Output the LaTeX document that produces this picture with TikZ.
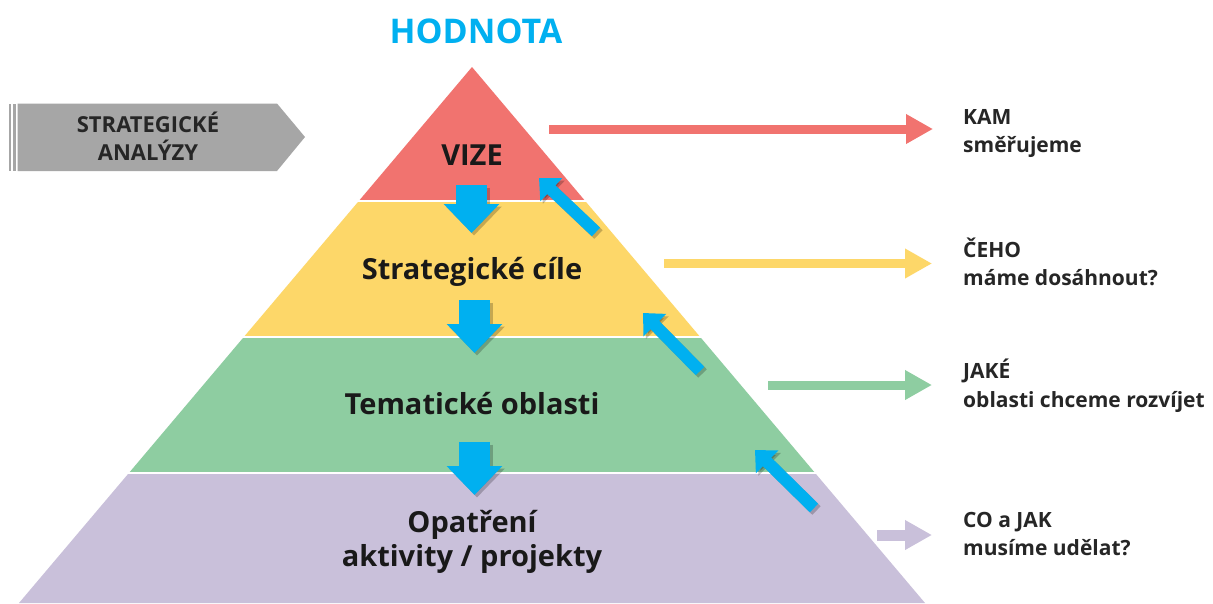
\documentclass[tikz,border=0pt]{standalone}
\usepackage{fontspec}
\setmainfont{Open Sans}
\usetikzlibrary{arrows.meta}
\definecolor{cred}{HTML}{F1736F}
\definecolor{cyel}{HTML}{FDD769}
\definecolor{cgrn}{HTML}{8ECDA1}
\definecolor{cpur}{HTML}{C9C0DA}
\definecolor{cblue}{HTML}{00B0F0}
\definecolor{cgrey}{HTML}{A6A6A6}
\definecolor{ctext}{HTML}{262626}
\begin{document}
\begin{tikzpicture}[x=1pt,y=-1pt,
  ptext/.style={inner sep=0pt, anchor=base, text=black!90,
    font=\bfseries\fontsize{29}{35}\selectfont},
  rtext/.style={inner sep=0pt, anchor=base west, text=ctext,
    font=\bfseries\fontsize{21}{28}\selectfont},
  gtext/.style={inner sep=0pt, anchor=base, text=ctext,
    font=\bfseries\fontsize{22}{28}\selectfont},
  sidearrow/.style={line width=9pt, -{Triangle[length=27pt,width=28pt]}},
  downarrow/.style={line width=31pt, cblue, -{Triangle[length=29pt,width=54pt]}},
  diagarrow/.style={line width=12pt, cblue, -{Triangle[length=17pt,width=31pt]}},
  downshadow/.style={line width=31pt, black, opacity=0.22,
    -{Triangle[length=29pt,width=54pt]}, transform canvas={shift={(2.5pt,-2.5pt)}}},
  diagshadow/.style={line width=12pt, black, opacity=0.22,
    -{Triangle[length=17pt,width=31pt]}, transform canvas={shift={(2.5pt,-2.5pt)}}},
  sepline/.style={white, line width=2pt}
]
\useasboundingbox (0,0) rectangle (1213,603);
\fill[white] (0,0) rectangle (1213,603);

% pyramid bands
\fill[cred] (472,67) -- (585.2,201) -- (358.8,201) -- cycle;
\fill[cyel] (358.8,201) -- (585.2,201) -- (700.2,337) -- (243.8,337) -- cycle;
\fill[cgrn] (243.8,337) -- (700.2,337) -- (815.1,473) -- (128.9,473) -- cycle;
\fill[cpur] (128.9,473) -- (815.1,473) -- (925,603) -- (19,603) -- cycle;
\draw[sepline] (355,201) -- (590,201);
\draw[sepline] (240,337) -- (704,337);
\draw[sepline] (125,473) -- (819,473);

% title
\node[inner sep=0pt, anchor=base, text=cblue,
  font=\bfseries\fontsize{34}{40}\selectfont] (title) at (476,43) {HODNOTA};

% grey arrow (strategic analyses)
\fill[cgrey] (8.5,103.5) rectangle (10.5,171);
\fill[cgrey] (13,103.5) rectangle (15.5,171);
\fill[cgrey] (17.5,103.5) -- (277,103.5) -- (305,137) -- (277,171) -- (17.5,171) -- cycle;
\node[gtext] (sa1) at (148,132) {STRATEGICKÉ};
\node[gtext] (sa2) at (148,160) {ANALÝZY};

% pyramid labels
\node[ptext] (vize) at (472,165) {VIZE};
\node[ptext] (cile) at (472,279) {Strategické cíle};
\node[ptext] (oblasti) at (472,414) {Tematické oblasti};
\node[ptext] (opatreni) at (472,532) {Opatření};
\node[ptext] (aktivity) at (472,566) {aktivity / projekty};

% right labels
\node[rtext] (kam1) at (963,124) {KAM};
\node[rtext] (kam2) at (963,152) {směřujeme};
\node[rtext] (ceho1) at (963,257) {ČEHO};
\node[rtext] (ceho2) at (963,285) {máme dosáhnout?};
\node[rtext] (jake1) at (963,378) {JAKÉ};
\node[rtext] (jake2) at (963,407) {oblasti chceme rozvíjet};
\node[rtext] (co1) at (963,527) {CO a JAK};
\node[rtext] (co2) at (963,555) {musíme udělat?};

% side arrow coordinates
\coordinate (r1s) at (549,129);   \coordinate (r1e) at (933,129);
\coordinate (y1s) at (664,263.5); \coordinate (y1e) at (932,263.5);
\coordinate (g1s) at (768,385);   \coordinate (g1e) at (932,385);
\coordinate (p1s) at (877,535);   \coordinate (p1e) at (932,535);
\draw[sidearrow, cred] (r1s) -- (r1e);
\draw[sidearrow, cyel] (y1s) -- (y1e);
\draw[sidearrow, cgrn] (g1s) -- (g1e);
\draw[sidearrow, cpur, line width=11pt] (p1s) -- (p1e);

% down arrows
\coordinate (d1s) at (471.5,185); \coordinate (d1e) at (471.5,233);
\coordinate (d2s) at (474.5,300); \coordinate (d2e) at (474.5,353);
\coordinate (d3s) at (474.5,442); \coordinate (d3e) at (474.5,495);
\foreach \a in {1,2,3}{
  \draw[downshadow] (d\a s) -- (d\a e);
  \draw[downarrow] (d\a s) -- (d\a e);
}

% diagonal arrows (upward feedback)
\coordinate (u1s) at (596,232); \coordinate (u1e) at (539,178);
\coordinate (u2s) at (700,371); \coordinate (u2e) at (643,313);
\coordinate (u3s) at (814,508); \coordinate (u3e) at (755,450);
\foreach \a in {1,2,3}{
  \draw[diagshadow] (u\a s) -- (u\a e);
  \draw[diagarrow] (u\a s) -- (u\a e);
}
\end{tikzpicture}
\end{document}
